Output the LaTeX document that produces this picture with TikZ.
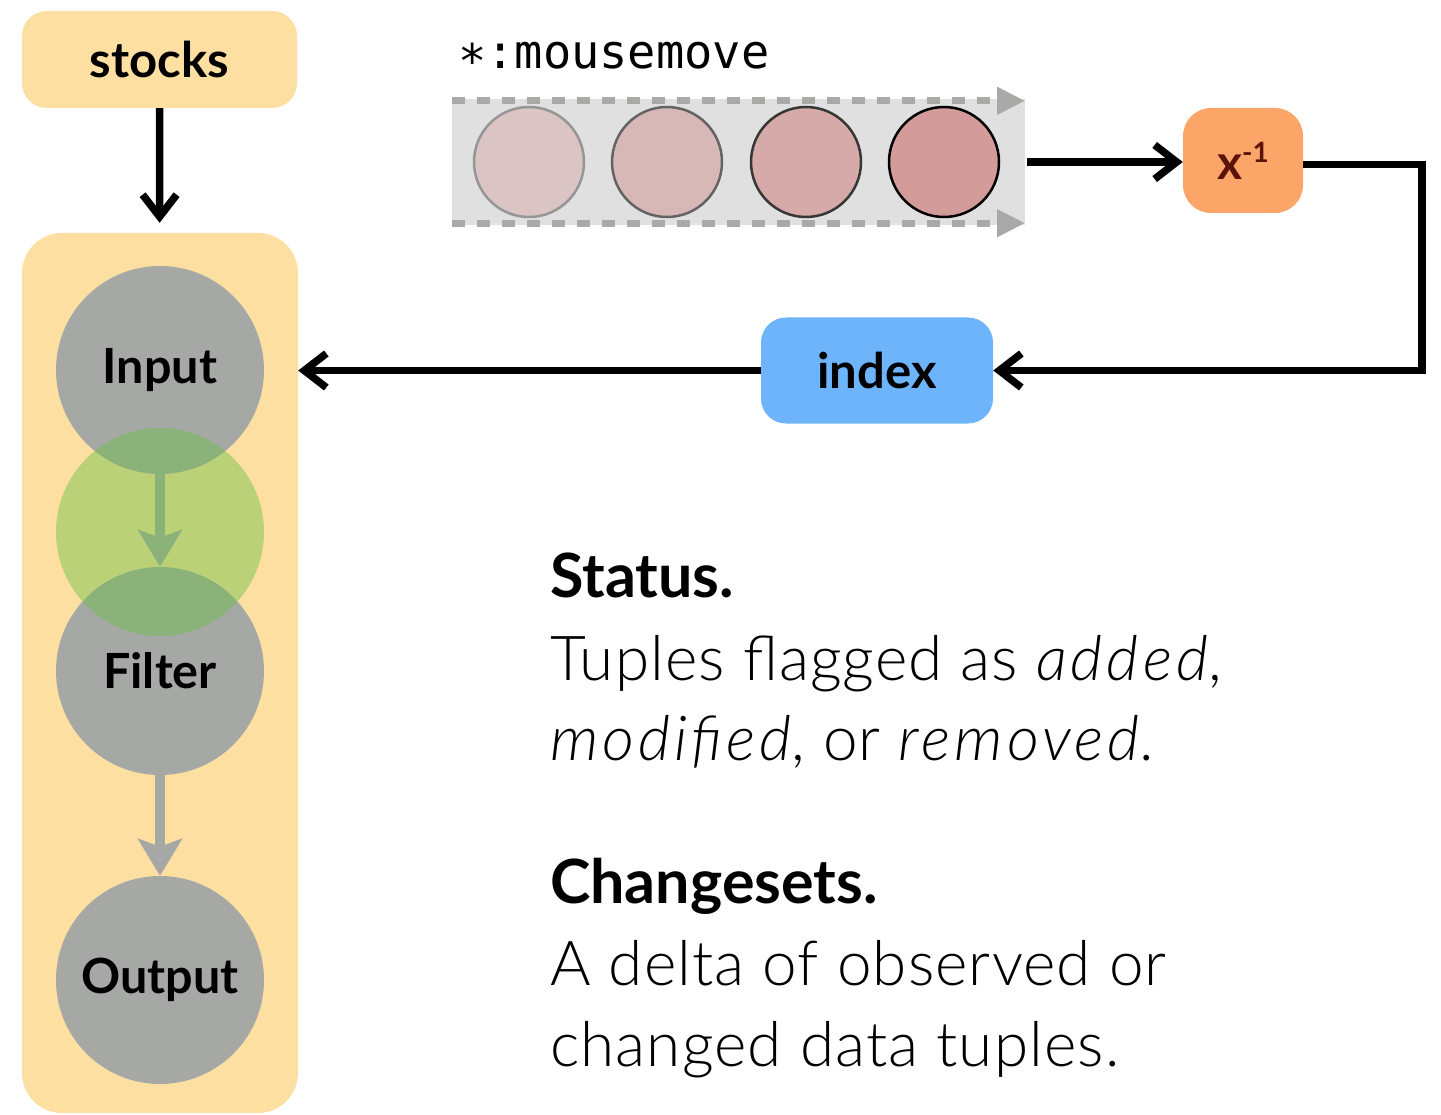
\documentclass[tikz,border=0pt]{standalone}
\usepackage{fontspec}
\setmainfont{Lato}
\newfontfamily\lightfont{Lato Light}[LetterSpace=1.8]
\setmonofont{DejaVu Sans Mono}
\usetikzlibrary{arrows.meta}

\definecolor{paleyellow}{RGB}{253,224,161}
\definecolor{nodegray}{RGB}{165,168,165}
\definecolor{hlgreen}{RGB}{107,192,69}
\definecolor{streambg}{RGB}{224,224,224}
\definecolor{streamdash}{RGB}{168,170,168}
\definecolor{orangebox}{RGB}{251,165,105}
\definecolor{darkbrown}{RGB}{92,20,10}
\definecolor{bluebox}{RGB}{110,180,250}
\definecolor{evfillA}{RGB}{219,196,196}
\definecolor{evfillB}{RGB}{216,184,183}
\definecolor{evfillC}{RGB}{214,170,168}
\definecolor{evfillD}{RGB}{211,155,153}

% italic words in the light body text, spaced a little wider
\newcommand{\emword}[1]{{\itshape\addfontfeature{LetterSpace=6.5}#1}}

\tikzset{
  opbox/.style={rectangle, inner sep=0pt, font=\bfseries\fontsize{49}{49}\selectfont},
  opnode/.style={circle, fill=nodegray, minimum size=208pt, inner sep=0pt,
                 font=\bfseries\fontsize{48.5}{48.5}\selectfont},
  event/.style={circle, minimum size=110pt, inner sep=0pt, line width=2.5pt},
  conn/.style={line width=7.5pt, -{Straight Barb[length=22pt,width=34pt]}},
  flow/.style={draw=nodegray, line width=10pt,
               -{Stealth[length=37pt,width=44pt,inset=8pt]}},
  streamline/.style={draw=streamdash, line width=7pt, dash pattern=on 13pt off 12pt,
                     -{Triangle[length=28pt,width=26pt]}},
  heading/.style={anchor=base west, inner sep=0pt, font=\bfseries\fontsize{61}{61}\selectfont},
  body/.style={anchor=base west, inner sep=0pt, font=\lightfont\fontsize{62}{62}\selectfont},
}

\begin{document}
\begin{tikzpicture}[x=1pt, y=-1pt]
\useasboundingbox (0,0) rectangle (1441,1115);

% source and pipeline container
\node[opbox, fill=paleyellow, rounded corners=25pt, minimum width=275pt, minimum height=97pt]
  (stocks) at (159.5,59.5) {stocks};
\node[rectangle, fill=paleyellow, rounded corners=40pt, minimum width=276pt, minimum height=880pt]
  (pipe) at (160,673) {};

% operators
\node[opnode] (input)  at (160,370) {Input};
\node[opnode] (filter) at (160,671) {Filter};
\node[opnode] (output) at (160,980) {Output};

\draw[flow] (input) -- (filter);
\draw[flow] (filter) -- (output);

% highlighted changeset between input and filter
\node[circle, fill=hlgreen, fill opacity=0.45, minimum size=208pt, inner sep=0pt]
  (hl) at (160,532) {};

\draw[conn, shorten >=10pt] (stocks) -- (pipe);

% event stream
\node[anchor=base west, inner sep=0pt, font=\ttfamily\fontsize{47}{47}\selectfont]
  (streamlabel) at (458,69) {∗:mousemove};
\node[rectangle, fill=streambg, minimum width=573pt, minimum height=126pt, inner sep=0pt]
  (stream) at (738.5,162) {};
\draw[streamline] ([yshift=-2pt]stream.north west) -- ([yshift=-2pt]stream.north east);
\draw[streamline] ([yshift=2pt]stream.south west) -- ([yshift=2pt]stream.south east);

\node[event, fill=evfillA, draw={rgb,255:red,150;green,150;blue,150}] (ev1) at (529,162) {};
\node[event, fill=evfillB, draw={rgb,255:red,100;green,100;blue,100}] (ev2) at (667,162) {};
\node[event, fill=evfillC, draw={rgb,255:red,55;green,55;blue,55}]    (ev3) at (806,162) {};
\node[event, fill=evfillD, draw=black]                                 (ev4) at (944,162) {};

% inverse and index operators
\node[opbox, fill=orangebox, text=darkbrown, rounded corners=28pt, minimum width=120pt, minimum height=105pt,
      font=\bfseries\fontsize{48}{48}\selectfont]
  (inv) at (1243,160.5) {x\raisebox{17pt}{\fontsize{28}{28}\selectfont -1}};
\node[opbox, fill=bluebox, rounded corners=25pt, minimum width=232pt, minimum height=106pt]
  (index) at (877,370.5) {index};

\draw[conn] ([xshift=2pt]stream.east) -- (inv.west |- stream.east);
\draw[conn] ([yshift=-4pt]inv.east) -- ++(119,0) |- (index.east);
\draw[conn] (index.west) -- (pipe.east |- index.west);

% explanatory text
\node[heading] (statush) at (550,597) {Status.};
\node[body] (status1) at (550,680) {Tuples flagged as \emword{added},};
\node[body] (status2) at (550,760) {\emword{modified}, or \emword{removed}.};
\node[heading] (changeh) at (550,903) {Changesets.};
\node[body] (change1) at (550,985) {A delta of observed or};
\node[body] (change2) at (550,1066) {changed data tuples.};
\end{tikzpicture}
\end{document}
